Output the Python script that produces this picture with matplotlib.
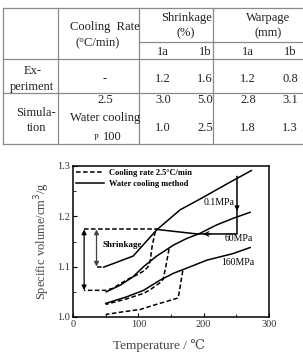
import numpy as np
import matplotlib
matplotlib.use('Agg')
import matplotlib.pyplot as plt
from matplotlib.ticker import MultipleLocator, FormatStrFormatter

serif = ['Liberation Serif', 'DejaVu Serif']
plt.rcParams['font.family'] = serif

# ---- table values ----
sub_cols = ['1a', '1b', '1a', '1b']
exp_vals = ['1.2', '1.6', '1.2', '0.8']
sim_slow = ['3.0', '5.0', '2.8', '3.1']
sim_water = ['1.0', '2.5', '1.8', '1.3']

# ---- PVT curves (T in C, V in cm3/g) ----
t_01 = [47, 92, 101, 128, 164, 194, 235, 273]
v_01 = [1.099, 1.121, 1.134, 1.173, 1.213, 1.234, 1.264, 1.291]
t_60 = [51, 72, 92, 108, 128, 154, 174, 194, 220, 245, 271]
v_60 = [1.050, 1.063, 1.080, 1.100, 1.121, 1.143, 1.156, 1.166, 1.183, 1.196, 1.208]
t_160 = [50, 82, 108, 133, 154, 174, 205, 245, 271]
v_160 = [1.027, 1.040, 1.053, 1.073, 1.087, 1.097, 1.113, 1.126, 1.138]

# slow cooling (2.5 C/min) curves
t_slow1 = [126, 121, 118, 115, 110, 100, 87, 72, 61, 50, 17]
v_slow1 = [1.170, 1.140, 1.110, 1.100, 1.093, 1.085, 1.077, 1.066, 1.057, 1.053, 1.053]
t_slow2 = [147, 142, 138, 133, 118, 108, 82, 50]
v_slow2 = [1.135, 1.100, 1.075, 1.068, 1.054, 1.047, 1.036, 1.025]
t_slow3 = [168, 164, 161, 151, 125, 103, 75, 50]
v_slow3 = [1.092, 1.060, 1.038, 1.034, 1.024, 1.015, 1.010, 1.005]

# guide lines and pressure path
t_top = [17, 129]
v_top = [1.174, 1.174]
t_mid = [36, 47]
v_mid = [1.100, 1.100]
t_path = [251, 251, 190, 128]
v_path = [1.279, 1.165, 1.165, 1.174]

fig = plt.figure(figsize=(3.03, 3.53), dpi=100)

# ---- table drawn in pixel coordinates ----
tab = fig.add_axes([0, 0, 1, 1])
tab.set_xlim(0, 303)
tab.set_ylim(353, 0)
tab.axis('off')
lc = '#8a8a8a'
for y in [8, 59, 93, 144]:
    tab.plot([3, 303], [y, y], color=lc, lw=0.9)
tab.plot([139, 303], [42, 42], color=lc, lw=0.9)
for x in [3, 58, 139, 213]:
    tab.plot([x, x], [8, 144], color=lc, lw=0.9)

fs = 9
tc = '#222222'
col_x = [163, 205, 248, 290]
tab.text(105, 27, 'Cooling  Rate', ha='center', va='center', fontsize=fs, color=tc)
tab.text(98, 43, '(\u00b0C/min)', ha='center', va='center', fontsize=fs, color=tc)
tab.text(186, 18, 'Shrinkage', ha='center', va='center', fontsize=fs, color=tc)
tab.text(186, 33, '(%)', ha='center', va='center', fontsize=fs, color=tc)
tab.text(268, 18, 'Warpage', ha='center', va='center', fontsize=fs, color=tc)
tab.text(268, 33, '(mm)', ha='center', va='center', fontsize=fs, color=tc)
for x, s in zip(col_x, sub_cols):
    tab.text(x, 52, s, ha='center', va='center', fontsize=fs, color=tc)
tab.text(33, 71, 'Ex-', ha='center', va='center', fontsize=fs, color=tc)
tab.text(32, 87, 'periment', ha='center', va='center', fontsize=fs, color=tc)
tab.text(105, 79, '-', ha='center', va='center', fontsize=fs, color=tc)
tab.text(36, 113, 'Simula-', ha='center', va='center', fontsize=fs, color=tc)
tab.text(37, 128, 'tion', ha='center', va='center', fontsize=fs, color=tc)
tab.text(105, 100, '2.5', ha='center', va='center', fontsize=fs, color=tc)
tab.text(105, 118, 'Water cooling', ha='center', va='center', fontsize=fs, color=tc)
tab.text(96, 138, 'P', ha='center', va='center', fontsize=6, color=tc)
tab.text(112, 137, '100', ha='center', va='center', fontsize=fs, color=tc)
for x, a, b, c in zip(col_x, exp_vals, sim_slow, sim_water):
    tab.text(x, 79, a, ha='center', va='center', fontsize=fs, color=tc)
    tab.text(x, 100, b, ha='center', va='center', fontsize=fs, color=tc)
    tab.text(x, 128, c, ha='center', va='center', fontsize=fs, color=tc)

# ---- PVT chart ----
ax = fig.add_axes([73 / 303, (353 - 317) / 353, (269 - 73) / 303, (317 - 166) / 353])
lw = 1.1
dash = (0, (3, 1.6))
ax.plot(t_slow1, v_slow1, color='k', lw=lw, ls=dash, label='Cooling rate 2.5\u00b0C/min')
ax.plot(t_01, v_01, color='k', lw=lw, label='Water cooling method')
ax.plot(t_60, v_60, color='k', lw=lw)
ax.plot(t_160, v_160, color='k', lw=lw)
ax.plot(t_slow2, v_slow2, color='k', lw=lw, ls=dash)
ax.plot(t_slow3, v_slow3, color='k', lw=lw, ls=dash)
ax.plot(t_top, v_top, color='k', lw=lw, ls=dash)
ax.plot(t_mid, v_mid, color='k', lw=lw, ls=dash)
ax.plot(t_path, v_path, color='k', lw=lw)

# arrowheads on the pressure path
ax.annotate('', xy=(251, 1.205), xytext=(251, 1.225),
            arrowprops=dict(arrowstyle='-|>', color='k', lw=0.8, mutation_scale=7))
ax.annotate('', xy=(195, 1.165), xytext=(215, 1.165),
            arrowprops=dict(arrowstyle='->', color='k', lw=0.8, mutation_scale=8))

# shrinkage arrows
ax.annotate('', xy=(17, 1.053), xytext=(17, 1.174),
            arrowprops=dict(arrowstyle='<|-|>', color='k', lw=0.9, mutation_scale=7,
                            shrinkA=0, shrinkB=0))
ax.annotate('', xy=(36, 1.100), xytext=(36, 1.174),
            arrowprops=dict(arrowstyle='<|-|>', color='#444444', lw=0.9, mutation_scale=7,
                            shrinkA=0, shrinkB=0))
ax.text(45, 1.143, 'Shrinkage', fontsize=6.5, fontweight='bold', va='center')

ax.text(223, 1.228, '0.1MPa', fontsize=7, ha='center', va='center')
ax.text(253, 1.155, '60MPa', fontsize=7, ha='center', va='center')
ax.text(252, 1.109, '160MPa', fontsize=7, ha='center', va='center')

ax.legend(loc='upper left', bbox_to_anchor=(0, 1.0), frameon=False,
          handlelength=3.3, handletextpad=0.6, borderaxespad=0.2, borderpad=0.2,
          labelspacing=0.35, prop={'weight': 'bold', 'size': 6, 'family': serif})

ax.set_xlim(0, 300)
ax.set_ylim(1.0, 1.3)
ax.xaxis.set_major_locator(MultipleLocator(100))
ax.xaxis.set_minor_locator(MultipleLocator(50))
ax.yaxis.set_major_locator(MultipleLocator(0.1))
ax.yaxis.set_minor_locator(MultipleLocator(0.05))
ax.yaxis.set_major_formatter(FormatStrFormatter('%.1f'))
ax.tick_params(which='both', direction='in', labelsize=7.5, labelcolor='#333333', pad=2)
ax.tick_params(which='major', length=3)
ax.tick_params(which='minor', length=2)
for sp in ax.spines.values():
    sp.set_linewidth(1.1)
ax.set_ylabel('Specific volume/cm$^3$/g', fontsize=9, color='#444444', labelpad=4)
ax.set_xlabel('Temperature / \u2103', fontsize=9.5, color='#444444')
ax.xaxis.set_label_coords(0.44, -0.145)

fig.savefig('out.png', dpi=100)
